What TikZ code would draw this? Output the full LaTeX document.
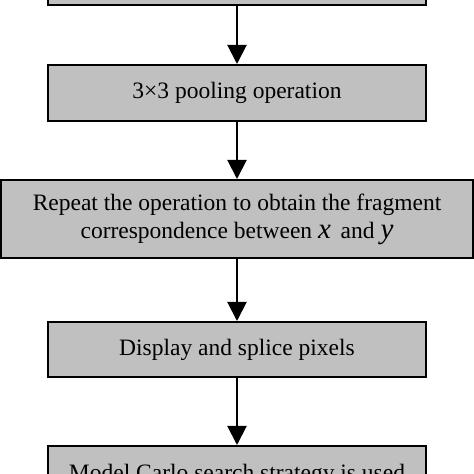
\documentclass[tikz,border=0pt]{standalone}
\usepackage{fontspec}
\setmainfont{Liberation Serif}
\usetikzlibrary{arrows.meta}
\tikzset{
  stepbox/.style={draw=black, line width=2pt, fill=boxgray, inner sep=0pt,
    align=center, font=\fontsize{23.5}{28.2}\selectfont},
  flow/.style={line width=2pt, -{Triangle[length=19pt,width=19pt]}}
}
\definecolor{boxgray}{HTML}{C0C0C0}
\newcommand{\bigit}[1]{{\fontsize{29}{29}\selectfont\itshape #1}}
\begin{document}
\begin{tikzpicture}[x=1pt,y=1pt]
\useasboundingbox (0,0) rectangle (474,474);
\clip (0,0) rectangle (474,474);
\node[stepbox, minimum width=378pt, minimum height=56pt] (b1) at (237,474+23) {};
\node[stepbox, minimum width=378pt, minimum height=56pt] (b2) at (237,474-93) {3×3 pooling operation};
\node[stepbox, minimum width=472pt, minimum height=78pt] (b3) at (237,474-219) {Repeat the operation to obtain the fragment\\correspondence between \bigit{x}\, and \bigit{y}};
\node[stepbox, minimum width=378pt, minimum height=55pt] (b4) at (237,474-349.5) {Display and splice pixels};
\node[stepbox, minimum width=378pt, minimum height=78pt, anchor=north, text depth=40pt, text height=31pt] (b5) at (237,474-445) {Model Carlo search strategy is used};
\draw[flow] (b1) -- (b2);
\draw[flow] (b2) -- (b3);
\draw[flow] (b3) -- (b4);
\draw[flow] (b4) -- (b5);
\end{tikzpicture}
\end{document}
